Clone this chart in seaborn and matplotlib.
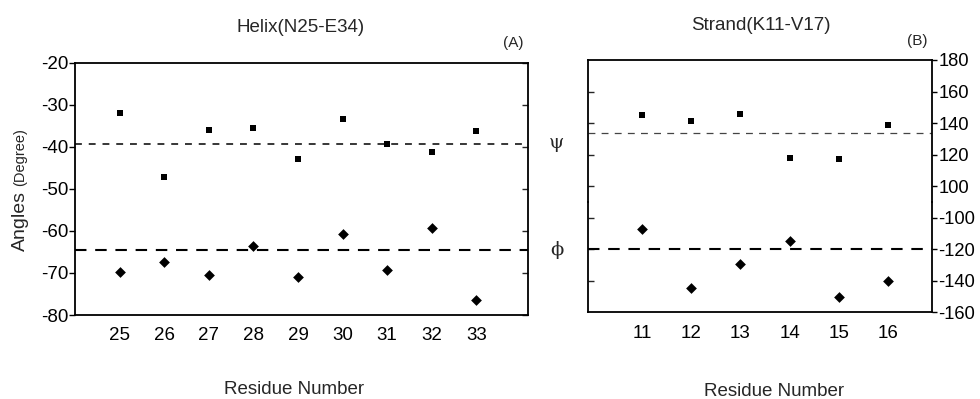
import matplotlib
matplotlib.use("Agg")
import matplotlib.pyplot as plt
import seaborn as sns
import pandas as pd

# ---------------- data ----------------
helix_res = [25, 26, 27, 28, 29, 30, 31, 32, 33]
helix_psi = [-31.9, -47.3, -35.9, -35.5, -43.0, -33.5, -39.3, -41.2, -36.3]
helix_phi = [-69.8, -67.3, -70.4, -63.5, -70.9, -60.7, -69.4, -59.2, -76.4]
helix_psi_ref = -39.4
helix_phi_ref = -64.5

strand_res = [11, 12, 13, 14, 15, 16]
strand_psi = [145.1, 141.5, 145.8, 118.0, 117.2, 139.0]
strand_phi = [-107.4, -144.8, -129.4, -114.8, -150.3, -140.3]
strand_psi_ref = 134
strand_phi_ref = -120

helix_yticks = [-20, -30, -40, -50, -60, -70, -80]
strand_psi_ticks = [100, 120, 140, 160, 180]
strand_phi_ticks = [-160, -140, -120, -100]

# ---------------- style ----------------
sns.set_theme(style="ticks")
plt.rcParams['font.family'] = ['Liberation Sans', 'DejaVu Sans']
plt.rcParams['axes.unicode_minus'] = False

W, H = 980, 399
fig = plt.figure(figsize=(W / 100, H / 100), dpi=100)

def fx(px):
    return px / W

def fy(py):
    return 1 - py / H

FS = 13.5
SPW = 1.3
MS_SQ = 25
MS_DI = 30

# ---------------- left panel ----------------
axL = fig.add_axes([fx(75), fy(315), fx(527.7 - 75), (315 - 62.7) / H])
dfh = pd.DataFrame({"res": helix_res, "psi": helix_psi, "phi": helix_phi})
sns.scatterplot(data=dfh, x="res", y="psi", marker="s", color="black",
                s=MS_SQ, linewidth=0, ax=axL)
sns.scatterplot(data=dfh, x="res", y="phi", marker="D", color="black",
                s=MS_DI, linewidth=0, ax=axL)
axL.axhline(helix_psi_ref, color="black", lw=1.1, ls=(0, (4.5, 4.5)))
axL.axhline(helix_phi_ref, color="black", lw=1.5, ls=(0, (5.5, 4.2)))
axL.set_xlim(24, 34.15)
axL.set_ylim(-80, -20)
axL.set_yticks(helix_yticks)
axL.set_yticklabels([str(v) for v in helix_yticks])
axL.set_xticks(helix_res)
axL.set_xticklabels([str(v) for v in helix_res])
axL.tick_params(axis="x", length=0, pad=9, labelsize=FS, colors="black")
axL.tick_params(axis="y", which="both", direction="out", length=4.5, width=1.0,
                pad=0.5, labelsize=FS, colors="black", right=False)
axL.set_xlabel("")
axL.set_ylabel("")
for sp in axL.spines.values():
    sp.set_visible(True)
    sp.set_linewidth(SPW)
    sp.set_color("black")
# inward ticks on the right spine
axR2 = axL.secondary_yaxis("right")
axR2.set_yticks(helix_yticks)
axR2.tick_params(direction="in", length=4, width=1.0, labelright=False)
axR2.spines["right"].set_visible(False)

# ---------------- right panel (broken axis) ----------------
x0, x1 = 588.3, 932.3
ytop, ybot = 60.0, 312.3
scale = (ybot - ytop) / 160.0
ysplit = ytop + 90 * scale

axT = fig.add_axes([fx(x0), fy(ysplit), fx(x1 - x0), (ysplit - ytop) / H])
axB = fig.add_axes([fx(x0), fy(ybot), fx(x1 - x0), (ybot - ysplit) / H])

dfs = pd.DataFrame({"res": strand_res, "psi": strand_psi, "phi": strand_phi})
sns.scatterplot(data=dfs, x="res", y="psi", marker="s", color="black",
                s=MS_SQ, linewidth=0, ax=axT)
sns.scatterplot(data=dfs, x="res", y="phi", marker="D", color="black",
                s=MS_DI, linewidth=0, ax=axB)
axT.axhline(strand_psi_ref, color="#444444", lw=0.9, ls=(0, (5.5, 5.0)))
axB.axhline(strand_phi_ref, color="black", lw=1.5, ls=(0, (5.5, 4.2)))

for ax in (axT, axB):
    ax.set_xlim(9.91, 16.9)
    ax.set_xlabel("")
    ax.set_ylabel("")
    ax.set_facecolor("none")
    for sp in ax.spines.values():
        sp.set_linewidth(SPW)
        sp.set_color("black")
    ax.yaxis.tick_right()
    ax.tick_params(axis="y", which="both", direction="out", length=3.5, width=1.0,
                   pad=0.8, labelsize=FS - 0.3, colors="black",
                   left=False, right=True, labelleft=False, labelright=True)

axT.set_ylim(90, 180)
axB.set_ylim(-160, -90)
axT.spines["bottom"].set_visible(False)
axB.spines["top"].set_visible(False)
axT.set_yticks(strand_psi_ticks)
axT.set_yticklabels([str(v) for v in strand_psi_ticks])
axB.set_yticks(strand_phi_ticks)
axB.set_yticklabels([str(v) for v in strand_phi_ticks])
axT.set_xticks([])
axT.tick_params(axis="x", length=0, labelbottom=False)
axB.set_xticks(strand_res)
axB.set_xticklabels([str(v) for v in strand_res])
axB.tick_params(axis="x", length=0, pad=9.5, labelsize=FS, colors="black")

for ax, ticks in ((axT, strand_psi_ticks[:-1]), (axB, strand_phi_ticks[1:])):
    sec = ax.secondary_yaxis("left")
    sec.set_yticks(ticks)
    sec.tick_params(direction="in", length=4, width=1.0, labelleft=False)
    sec.spines["left"].set_visible(False)

# ---------------- texts ----------------
fig.text(fx(301), fy(32.5), "Helix(N25-E34)", ha="center", va="baseline", fontsize=FS)
fig.text(fx(761), fy(29.5), "Strand(K11-V17)", ha="center", va="baseline", fontsize=FS)
fig.text(fx(513), fy(47), "(A)", ha="center", va="baseline", fontsize=11)
fig.text(fx(917), fy(44.5), "(B)", ha="center", va="baseline", fontsize=11)
fig.text(fx(294), fy(393.5), "Residue Number", ha="center", va="baseline", fontsize=FS)
fig.text(fx(774.5), fy(395.5), "Residue Number", ha="center", va="baseline", fontsize=FS)
fig.text(fx(24.5), fy(251), "Angles", rotation=90, rotation_mode="anchor",
         ha="left", va="baseline", fontsize=FS + 0.5)
fig.text(fx(24.5), fy(186), "(Degree)", rotation=90, rotation_mode="anchor",
         ha="left", va="baseline", fontsize=10.5)
fig.text(fx(556), fy(143), "\u03c8", ha="center", va="center", fontsize=14,
         family=["DejaVu Serif"])
fig.text(fx(556.5), fy(250), "\u03d5", ha="center", va="center", fontsize=14,
         family=["DejaVu Serif"])

fig.savefig("out.png", dpi=100, facecolor="white")
